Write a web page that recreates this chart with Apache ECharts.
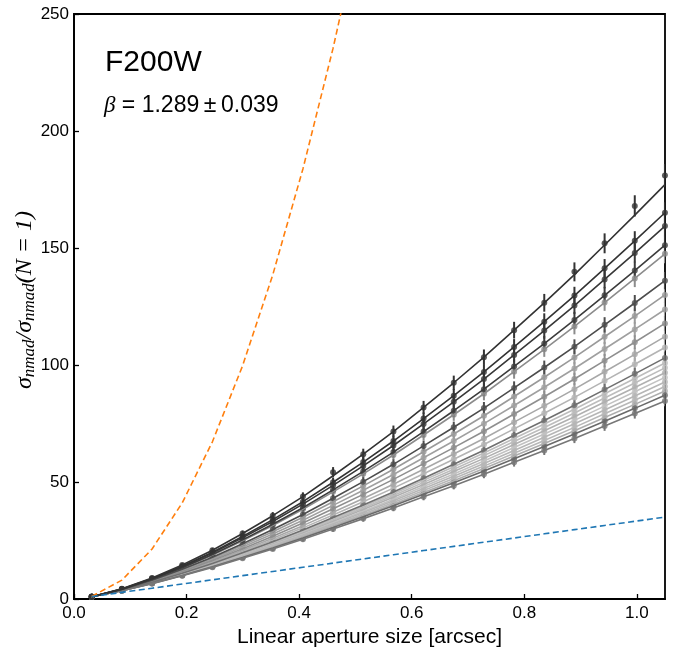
<!DOCTYPE html>
<html>
<head>
<meta charset="utf-8">
<script src="https://cdn.jsdelivr.net/npm/echarts@6/dist/echarts.min.js"></script>
<style>
html,body{margin:0;padding:0;background:#fff;}
#chart{width:678px;height:650px;}
</style>
</head>
<body>
<div id="chart"></div>
<script>
// aperture sizes [arcsec]
const X = [0.0315,0.0851,0.1387,0.1923,0.2459,0.2995,0.3531,0.4067,0.4603,0.5139,0.5675,0.6211,0.6747,0.7283,0.7819,0.8355,0.8891,0.9427,0.9963,1.0499];

// fitted curves of individual images
const L1  = [1,4.34,9.01,14.53,20.85,27.97,35.60,43.78,52.66,61.88,71.55,81.87,92.41,103.33,114.89,126.58,138.65,151.29,164.03,177.10];
const L1P = [1,4.34,9.01,14.53,20.85,27.97,35.60,43.78,54.2,61.88,71.55,81.87,92.41,103.33,114.89,126.58,139.8,152.0,168.0,181.0];
const L2  = [1,4.25,8.74,14.01,20.01,26.73,33.91,41.58,49.90,58.50,67.51,77.11,86.89,97.02,107.73,118.53,129.66,141.32,153.05,165.07];
const L3  = [1,4.21,8.61,13.76,19.60,26.13,33.10,40.54,48.58,56.88,65.59,74.83,84.26,94.01,104.31,114.70,125.40,136.57,147.83,159.37];
const L4  = [1,4.15,8.42,13.39,19.00,25.26,31.92,39.01,46.65,54.55,62.79,71.55,80.46,89.68,99.38,109.17,119.25,129.77,140.35,151.20];
const L5  = [1,4.12,8.34,13.22,18.73,24.86,31.38,38.31,45.78,53.49,61.53,70.07,78.75,87.72,97.16,106.68,116.48,126.70,136.99,147.49];
const L6  = [1,4.03,8.05,12.68,17.86,23.60,29.67,36.11,43.03,50.14,57.56,65.41,73.38,81.58,90.22,98.92,107.84,117.16,126.50,136.04];
const L7  = [1,3.97,7.90,12.38,17.39,22.92,28.75,34.93,41.55,48.35,55.43,62.91,70.50,78.31,86.52,94.77,103.24,112.08,120.92,129.96];
const L8  = [1,3.92,7.74,12.07,16.89,22.20,27.79,33.69,40.01,46.49,53.22,60.34,67.52,74.93,82.70,90.51,98.51,106.85,115.19,123.72];
const L9  = [1,3.86,7.58,11.77,16.41,21.51,26.86,32.51,38.54,44.70,51.11,57.86,64.68,71.69,79.05,86.45,94.00,101.86,109.74,117.77];
const L10 = [1,3.81,7.42,11.47,15.94,20.84,25.97,31.35,37.11,42.98,49.07,55.48,61.95,68.60,75.57,82.55,89.69,97.12,104.55,112.12];
const L11 = [1,3.77,7.29,11.23,15.55,20.28,25.22,30.40,35.93,41.56,47.39,53.53,59.71,66.06,72.70,79.36,86.16,93.22,100.29,107.48];
const L12 = [1,3.72,7.16,10.98,15.17,19.74,24.50,29.48,34.79,40.19,45.77,51.64,57.55,63.60,69.94,76.29,82.77,89.49,96.21,103.04];
const L12B= [1,3.70,7.09,10.86,14.99,19.47,24.14,29.03,34.23,39.52,44.98,50.72,56.50,62.41,68.61,74.80,81.11,87.68,94.23,100.89];
const L13 = [1,3.68,7.03,10.75,14.80,19.21,23.80,28.59,33.68,38.86,44.20,49.84,55.49,61.27,67.29,73.33,79.50,85.90,92.29,98.78];
const L14 = [1,3.65,6.97,10.63,14.62,18.95,23.45,28.15,33.14,38.21,43.44,48.93,54.45,60.10,66.00,71.90,77.92,84.16,90.39,96.72];
const L15 = [1,3.63,6.91,10.51,14.44,18.69,23.11,27.70,32.59,37.55,42.67,48.04,53.43,58.95,64.71,70.48,76.34,82.42,88.53,94.70];
const L15B= [1,3.61,6.84,10.40,14.26,18.44,22.78,27.30,32.09,36.94,41.95,47.20,52.48,57.87,63.49,69.12,74.85,80.78,86.71,92.73];
const L16 = [1,3.59,6.78,10.29,14.09,18.19,22.45,26.88,31.57,36.33,41.23,46.36,51.52,56.79,62.28,67.77,73.35,79.15,84.92,90.79];
const L16B= [1,3.57,6.72,10.18,13.91,17.95,22.13,26.47,31.07,35.72,40.52,45.54,50.58,55.73,61.09,66.47,71.90,77.55,83.18,88.90];
const L17 = [1,3.55,6.66,10.07,13.74,17.71,21.80,26.06,30.56,35.13,39.82,44.73,49.65,54.68,59.91,65.14,70.47,75.98,81.47,87.03];
const L18 = [1,3.52,6.58,9.92,13.52,17.39,21.38,25.53,29.92,34.35,38.91,43.67,48.45,53.32,58.39,63.45,68.61,73.93,79.24,84.62];

// relative error of the points at each aperture
const REL_ERR = [0.08,0.06,0.055,0.05,0.047,0.045,0.043,0.041,0.04,0.038,0.036,0.034,0.033,0.032,0.031,0.030,0.029,0.028,0.027,0.027];

// reference scalings: N (orange) and sqrt(N) (blue)
const ORANGE = [1.10,8.05,21.38,41.09,67.19,99.67,138.5,183.8,235.4,293.4];
const BLUE = [1.05,2.84,4.62,6.41,8.20,9.98,11.77,13.56,15.34,17.13,18.92,20.70,22.49,24.28,26.06,27.85,29.64,31.42,33.21,35.00];

const X_TICKS = [0,0.2,0.4,0.6,0.8,1.0];
const Y_TICKS = [0,50,100,150,200,250];

// draw order: light band first, dark lines last
const LINES = [
  {v:L11, c:'#b4b4b4'},
  {v:L13, c:'#bcbcbc'},
  {v:L14, c:'#b0b0b0'},
  {v:L15, c:'#c2c2c2'},
  {v:L15B,c:'#b6b6b6'},
  {v:L12B,c:'#bdbdbd'},
  {v:L16, c:'#b8b8b8'},
  {v:L16B,c:'#adadad'},
  {v:L10, c:'#a8a8a8'},
  {v:L8,  c:'#a0a0a0'},
  {v:L7,  c:'#9a9a9a'},
  {v:L9,  c:'#8f8f8f'},
  {v:L5,  c:'#8c8c8c'},
  {v:L12, c:'#707070'},
  {v:L17, c:'#6a6a6a'},
  {v:L18, c:'#777777'},
  {v:L6,  c:'#4d4d4d'},
  {v:L4,  c:'#3c3c3c'},
  {v:L3,  c:'#383838'},
  {v:L2,  c:'#333333'},
  {v:L1,  c:'#333333', p:L1P}
];

const series = [];
LINES.forEach(function(L){
  const pts = L.p || L.v;
  const col = L.c;
  series.push({
    type:'custom', clip:true, silent:true,
    data: X.map(function(x,i){ return [x, pts[i], pts[i]*REL_ERR[i]]; }),
    encode:{x:0,y:1},
    renderItem:function(params, api){
      const x = api.value(0), y = api.value(1), e = api.value(2);
      const a = api.coord([x, y-e]), b = api.coord([x, y+e]);
      return {type:'line', shape:{x1:a[0],y1:a[1],x2:b[0],y2:b[1]}, style:{stroke:col, lineWidth:2}};
    }
  });
  series.push({
    type:'scatter', silent:true, symbol:'circle', symbolSize:6,
    itemStyle:{color:col},
    data: X.map(function(x,i){ return [x, pts[i]]; })
  });
  series.push({
    type:'line', silent:true, showSymbol:false, symbol:'none',
    lineStyle:{color:col, width:1.6},
    data: X.map(function(x,i){ return [x, L.v[i]]; })
  });
});

series.push({
  type:'line', silent:true, showSymbol:false, symbol:'none',
  lineStyle:{color:'#ff7f0e', width:1.6, type:[6,3.5]},
  data: ORANGE.map(function(v,i){ return [X[i], v]; })
});
series.push({
  type:'line', silent:true, showSymbol:false, symbol:'none',
  lineStyle:{color:'#1f77b4', width:1.6, type:[6,3.5]},
  data: BLUE.map(function(v,i){ return [X[i], v]; })
});

const FONT = 'Liberation Sans';
const MATH = {fontFamily:'Liberation Serif', fontStyle:'italic', fill:'#000'};
const chart = echarts.init(document.getElementById('chart'), null, {renderer:'canvas'});
chart.setOption({
  animation:false,
  backgroundColor:'#fff',
  grid:{left:74, right:13, top:14, bottom:51, containLabel:false, outerBoundsMode:'none',
        show:true, borderColor:'#000', borderWidth:1.8, backgroundColor:'transparent'},
  xAxis:{
    type:'value', min:0, max:1.05, interval:0.2,
    axisLine:{show:true, lineStyle:{color:'#000', width:1.8}},
    axisTick:{show:true, inside:true, length:5, lineStyle:{color:'#000', width:1.3}},
    axisLabel:{color:'#000', fontSize:17, fontFamily:FONT, margin:6, showMaxLabel:false,
      formatter:function(v){ return X_TICKS.some(function(t){return Math.abs(t-v)<1e-6;}) ? v.toFixed(1) : ''; }},
    splitLine:{show:false},
    name:'Linear aperture size [arcsec]', nameLocation:'middle', nameGap:22,
    nameTextStyle:{color:'#000', fontSize:21, fontFamily:FONT}
  },
  yAxis:{
    type:'value', min:0, max:250, interval:50,
    axisLine:{show:true, lineStyle:{color:'#000', width:1.8}},
    axisTick:{show:true, inside:true, length:5, lineStyle:{color:'#000', width:1.3}},
    axisLabel:{color:'#000', fontSize:17, fontFamily:FONT, margin:5,
      formatter:function(v){ return Y_TICKS.indexOf(v)>=0 ? String(v) : ''; }},
    splitLine:{show:false}
  },
  graphic:[
    {type:'text', left:105, top:48, silent:true,
      style:{text:'F200W', fill:'#000', font:'30px "Liberation Sans"'}},
    {type:'text', left:104, top:94, silent:true,
      style:{
        text:'{b|β}{e| = }{t|1.289\u2009±\u20090.039}',
        rich:{
          b:{fontSize:23, fontFamily:'Liberation Serif', fontStyle:'italic', fill:'#000'},
          e:{fontSize:23, fontFamily:'Liberation Sans', fill:'#000'},
          t:{fontSize:23, fontFamily:'Liberation Sans', fill:'#000'}
        }
      }},
    {type:'text', x:25, y:300, rotation:Math.PI/2, silent:true,
      style:{
        text:'{s|σ}{sub|nmad}{s|/σ}{sub|nmad}{s|(N = 1)}',
        align:'center', verticalAlign:'middle',
        rich:{
          s:Object.assign({fontSize:24, lineHeight:26}, MATH),
          sub:Object.assign({fontSize:17, lineHeight:16, verticalAlign:'bottom'}, MATH)
        }
      }}
  ],
  series:series
});
</script>
</body>
</html>
